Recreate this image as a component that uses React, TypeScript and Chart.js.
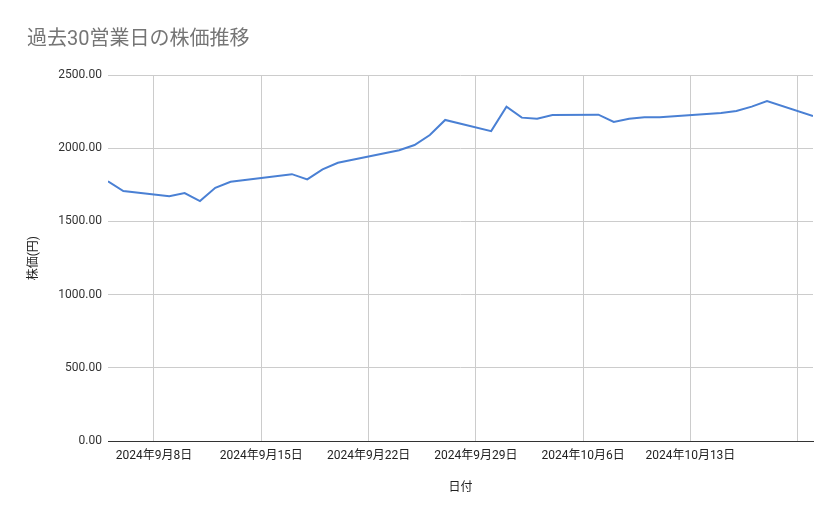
import React, { useEffect, useRef } from 'react';
import { Chart, registerables } from 'chart.js';

Chart.register(...registerables);

// 30 business days (Tokyo market holidays skipped)
const DATES = [
  '2024-09-05', '2024-09-06', '2024-09-09', '2024-09-10', '2024-09-11', '2024-09-12', '2024-09-13',
  '2024-09-17', '2024-09-18', '2024-09-19', '2024-09-20',
  '2024-09-24', '2024-09-25', '2024-09-26', '2024-09-27',
  '2024-09-30', '2024-10-01', '2024-10-02', '2024-10-03', '2024-10-04',
  '2024-10-07', '2024-10-08', '2024-10-09', '2024-10-10', '2024-10-11',
  '2024-10-15', '2024-10-16', '2024-10-17', '2024-10-18', '2024-10-21',
];
const PRICES = [
  1774, 1708, 1672, 1694, 1639, 1730, 1771,
  1823, 1787, 1856, 1901,
  1986, 2022, 2090, 2193,
  2117, 2284, 2209, 2202, 2227,
  2229, 2179, 2202, 2211, 2211,
  2240, 2254, 2284, 2322, 2220,
];
const TICK_DATES = ['2024-09-08', '2024-09-15', '2024-09-22', '2024-09-29', '2024-10-06', '2024-10-13', '2024-10-20'];
const TICK_LABELS = ['2024年9月8日', '2024年9月15日', '2024年9月22日', '2024年9月29日', '2024年10月6日', '2024年10月13日', ''];
const Y_TICKS = [0, 500, 1000, 1500, 2000, 2500];

const dayNum = (s: string) => {
  const [y, m, d] = s.split('-').map(Number);
  return Date.UTC(y, m - 1, d) / 86400000;
};

const FONT = "Roboto, 'Noto Sans CJK JP', sans-serif";

export default function App() {
  const canvasRef = useRef<HTMLCanvasElement>(null);

  useEffect(() => {
    if (!canvasRef.current) return;
    const tickNums = TICK_DATES.map(dayNum);
    const chart = new Chart(canvasRef.current, {
      type: 'line',
      data: {
        datasets: [
          {
            label: '株価',
            data: DATES.map((d, i) => ({ x: dayNum(d), y: PRICES[i] })),
            borderColor: '#4a80d4',
            borderWidth: 2,
            pointRadius: 0,
            tension: 0,
            fill: false,
          },
        ],
      },
      options: {
        responsive: false,
        animation: false,
        layout: { padding: { left: 27, right: 26, top: 0, bottom: 24 } },
        plugins: {
          legend: { display: false },
          tooltip: { enabled: false },
          title: {
            display: true,
            text: '過去30営業日の株価推移',
            align: 'start',
            color: '#757575',
            font: { family: FONT, size: 20, weight: 'normal' },
            padding: { top: 28, bottom: 23 },
          },
        },
        scales: {
          x: {
            type: 'linear',
            min: dayNum(DATES[0]),
            max: dayNum(DATES[DATES.length - 1]),
            afterBuildTicks: (scale) => {
              scale.ticks = tickNums.map((v) => ({ value: v }));
            },
            ticks: {
              autoSkip: false,
              maxRotation: 0,
              padding: 8,
              color: '#222',
              font: { family: FONT, size: 12 },
              callback: (v) => {
                const i = tickNums.indexOf(Number(v));
                return i >= 0 ? TICK_LABELS[i] : '';
              },
            },
            grid: { color: '#cccccc', drawTicks: false },
            border: { display: true, color: '#333', width: 1 },
            title: {
              display: true,
              text: '日付',
              color: '#222',
              font: { family: FONT, size: 12 },
              padding: { top: 9, bottom: 0 },
            },
          },
          y: {
            min: 0,
            max: 2500,
            afterBuildTicks: (scale) => {
              scale.ticks = Y_TICKS.map((v) => ({ value: v }));
            },
            afterFit: (scale) => {
              scale.width = 81;
            },
            ticks: {
              padding: 6,
              color: '#333',
              font: { family: FONT, size: 12 },
              callback: (v) => Number(v).toFixed(2),
            },
            grid: {
              drawTicks: false,
              color: (ctx) => (ctx.tick && ctx.tick.value === 0 ? '#333' : '#cccccc'),
            },
            border: { display: false },
            title: {
              display: true,
              text: '株価(円)',
              color: '#222',
              font: { family: FONT, size: 12 },
              padding: { top: 0, bottom: 0 },
            },
          },
        },
      },
    });
    return () => chart.destroy();
  }, []);

  return (
    <div style={{ position: 'absolute', left: 0, top: 0, width: 839, height: 519, background: '#fff' }}>
      <canvas ref={canvasRef} width={839} height={519} />
    </div>
  );
}
